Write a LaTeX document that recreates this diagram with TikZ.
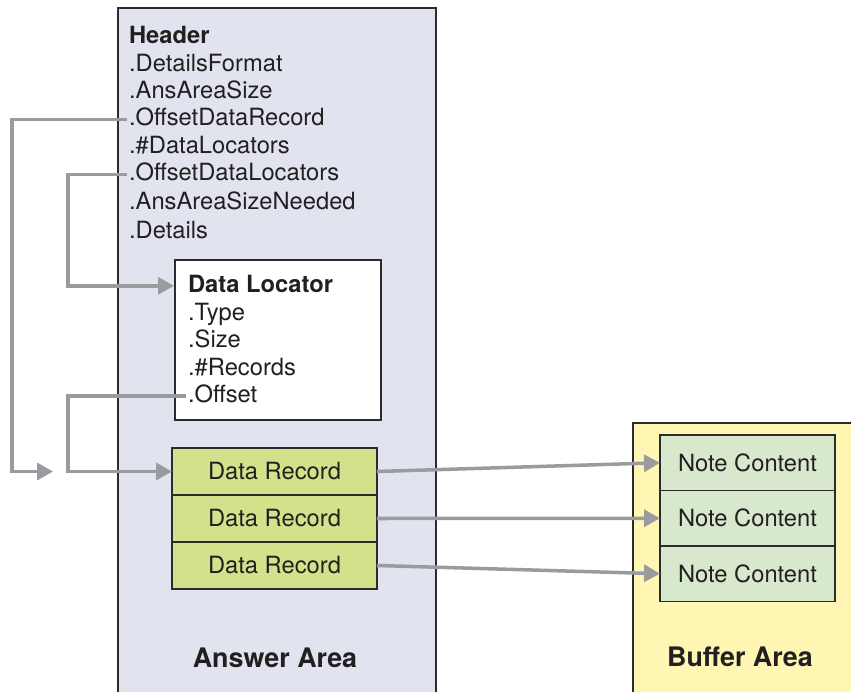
\documentclass[tikz,border=0pt]{standalone}
\usepackage{fontspec}
\setmainfont{TeX Gyre Heros}
\usetikzlibrary{
	arrows.meta,
	positioning
}
\definecolor{boxline}{HTML}{2B2B2D}
\definecolor{ansfill}{HTML}{E1E4EE}
\definecolor{buffill}{HTML}{FFF6B4}
\definecolor{recfill}{HTML}{D3E28A}
\definecolor{notefill}{HTML}{D7E8CC}
\definecolor{arrowgray}{HTML}{9A9B9F}
\definecolor{txt}{HTML}{231F20}

\begin{document}
\begin{tikzpicture}[
			x=0.02cm, y=-0.02cm,
			font=\fontsize{13.5}{16}\selectfont, text=txt,
			area/.style={draw=boxline, line width=0.9pt, anchor=north west, inner sep=0pt},
			arealabel/.style={font=\fontsize{15.3}{18}\selectfont\bfseries},
			field/.style={anchor=base west, inner xsep=1pt, inner ysep=0pt, text height=9.5pt, text depth=2.5pt},
			title/.style={field, font=\fontsize{13.5}{16}\selectfont\bfseries},
			record/.style={draw=boxline, fill=recfill, line width=0.9pt, outer sep=0pt, minimum width=4.1cm, minimum height=0.94cm, inner sep=0pt},
			note/.style={draw=boxline, fill=notefill, line width=0.9pt, outer sep=0pt, minimum width=3.5cm, minimum height=1.11cm, inner sep=0pt},
			fl/.style={draw=arrowgray, line width=2pt, -{Triangle[length=0.32cm, width=0.34cm]}}
		]
		\useasboundingbox (0,0) rectangle (851,691);

		% the two areas
		\node[area, fill=ansfill, minimum width=6.36cm, minimum height=14cm] (ans) at (117,7) {};
		\node[area, fill=buffill, minimum width=4.8cm, minimum height=6cm] (buf) at (632,422) {};
		\node[arealabel] (anslbl) at (275,658) {Answer Area};
		\node[arealabel] (buflbl) at (740,657) {Buffer Area};

		% header fields
		\node[title] (hd) at (127,43.5) {Header};
		\node[field] (fform) at (127,71) {.DetailsFormat};
		\node[field] (fsize) at (127,98.5) {.AnsAreaSize};
		\node[field] (frec) at (127,125.5) {.OffsetDataRecord};
		\node[field] (fnum) at (127,153.5) {.\#DataLocators};
		\node[field] (floc) at (127,180.5) {.OffsetDataLocators};
		\node[field] (fneed) at (127,209) {.AnsAreaSizeNeeded};
		\node[field] (fdet) at (127,238.5) {.Details};

		% data locator
		\node[area, fill=white, minimum width=4.12cm, minimum height=3.2cm] (dloc) at (174,259) {};
		\node[title] (dlhd) at (186,292) {Data Locator};
		\node[field] (dltype) at (186,320) {.Type};
		\node[field] (dlsize) at (186,347.5) {.Size};
		\node[field] (dlnum) at (186,375) {.\#Records};
		\node[field] (dloff) at (186,402) {.Offset};

		% data records
		\node[record, anchor=north west] (rec1) at (172,448) {Data Record};
		\node[record, below=0pt of rec1] (rec2) {Data Record};
		\node[record, below=0pt of rec2] (rec3) {Data Record};

		% note contents
		\node[note, anchor=north west] (note1) at (660,435) {Note Content};
		\node[note, below=0pt of note1] (note2) {Note Content};
		\node[note, below=0pt of note2] (note3) {Note Content};

		\coordinate (lx1) at (12,0);
		\coordinate (lx2) at (68,0);
		\coordinate (free) at (53,471.5);

		\draw[fl] (frec.west) -- (frec.west -| lx1) |- (free);
		\draw[fl] (floc.west) -- (floc.west -| lx2) |- (dlhd.west -| dloc.west);
		\draw[fl] (dloff.west) -- (dloff.west -| lx2) |- (rec1.west);
		\draw[fl] (rec1.east) -- (note1.west);
		\draw[fl] (rec2.east) -- (note2.west);
		\draw[fl] (rec3.east) -- (note3.west);
	\end{tikzpicture}
\end{document}
